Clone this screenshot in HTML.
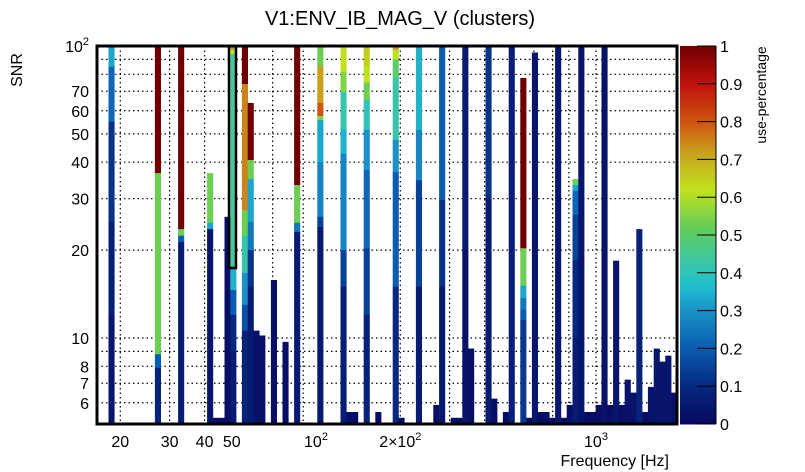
<!DOCTYPE html>
<html><head><meta charset="utf-8"><style>
html,body{margin:0;padding:0;background:#fff;}
svg{display:block;font-family:"Liberation Sans",sans-serif;}
</style></head><body>
<svg id="chart" width="805" height="472" viewBox="0 0 805 472" xmlns="http://www.w3.org/2000/svg">
<text x="400" y="25" font-size="20" text-anchor="middle">V1:ENV_IB_MAG_V (clusters)</text>
<text transform="translate(22,70) rotate(-90)" font-size="16" text-anchor="middle">SNR</text>
<text x="669" y="466" font-size="16" text-anchor="end">Frequency [Hz]</text>
<text transform="translate(766,95) rotate(-90)" font-size="14" text-anchor="middle">use-percentage</text>
<g id="grid"></g>
<g id="bars"></g>
<g id="frame"></g>
<g id="axes"></g>
<g id="cbar"></g>
</svg>
<script>
// ---- data ----
const fMin = 16.5, fMax = 1945, nBins = 100;
const snrMin = 5.07, snrMax = 100;
const xTickValues = [20, 30, 40, 50, 100, 200, 1000];
const xTickLabels = ["20", "30", "40", "50", "10^2", "2×10^2", "10^3"];
const xGridValues = [20, 30, 40, 50, 70, 90, 200, 300, 400, 500, 600, 700, 800, 1000];
const yTickValues = [100, 70, 60, 50, 40, 30, 20, 10, 8, 7, 6];
const yTickLabels = ["10^2", "70", "60", "50", "40", "30", "20", "10", "8", "7", "6"];
const yGridValues = [90, 80, 70, 60, 50, 40, 30, 20, 10, 9, 8, 7, 6];
const cbarTicks = [0, 0.1, 0.2, 0.3, 0.4, 0.5, 0.6, 0.7, 0.8, 0.9, 1];
// column bins and their segments: [top SNR, use-percentage] from top downwards
const colBins = [2,10,14,19,20,21,22,23,25,26,27,28,30,32,34,38,42,43,44,46,48,51,52,55,58,59,61,62,63,64,67,68,70,71,73,74,75,76,77,78,79,80,81,82,83,84,85,86,87,88,89,90,91,92,93,94,95,96,97,98,99];
const colSegs = [
 [[100,.33],[85,.22],[55,.12],[25,.07],[12,.04]],
 [[100,1],[36.7,.53],[8.8,.2],[7.9,.08]],
 [[100,1],[23.6,.53],[22.4,.2],[21.3,.06]],
 [[36.7,.53],[24.8,.33],[23.6,.04]],
 [[5.33,.02]],[[5.33,.02]],
 [[26,.02]],
 [[100,.72],[97,.62],[94,.45],[17.4,.35],[14.6,.2],[12,.1],[9,.06]],
 [[100,1],[74.1,.75],[27.4,.53],[22.4,.42],[16.7,.3],[13,.18],[10.6,.08]],
 [[63.8,1],[40.7,.53],[35,.33],[25,.25],[20,.12],[15,.06]],
 [[10.6,.03]],[[10.2,.03]],
 [[15.8,.02]],
 [[9.7,.02]],
 [[100,1],[33.4,.53],[24.8,.25],[23.1,.06]],
 [[100,.53],[85.4,.72],[63.8,.8],[57.6,.55],[55.8,.33],[40,.27],[26,.15],[24,.05]],
 [[100,.62],[81.5,.55],[69.6,.42],[52,.35],[42.7,.28],[20,.15],[15,.07]],
 [[5.58,.02]],[[5.58,.02]],
 [[100,.65],[85,.62],[75,.53],[65.3,.4],[51.6,.3],[37.6,.22],[20.3,.15],[12,.08]],
 [[5.58,.02]],
 [[100,.72],[97,.62],[90,.5],[78,.42],[47.7,.3],[37,.2],[15,.1]],
 [[5.33,.02]],
 [[100,.35],[51.6,.28],[34.7,.15],[15,.06]],
 [[5.9,.02]],
 [[100,.2],[29.7,.12],[15,.05]],
 [[5.33,.02]],[[5.33,.02]],
 [[100,.06],[20,.03]],
 [[9.2,.02]],
 [[100,.12],[30,.06]],
 [[6.2,.02]],
 [[5.58,.02]],
 [[100,.07]],
 [[77.7,1],[20.3,.53],[15.1,.33],[13.7,.25],[12.5,.2],[11.5,.13]],
 [[5.33,.02]],
 [[95,.04]],
 [[5.58,.02]],[[5.58,.02]],
 [[5.33,.02]],
 [[100,.05]],
 [[5.33,.02]],
 [[5.9,.02]],
 [[35,.53],[33.4,.33],[31.9,.22],[26.4,.15],[18.5,.1],[10,.06]],
 [[100,.04]],
 [[5.58,.02]],[[5.58,.02]],
 [[5.9,.02]],
 [[100,.03]],
 [[5.9,.02]],
 [[18.4,.04]],
 [[5.9,.02]],
 [[7.2,.03]],
 [[6.5,.03]],
 [[23.6,.08]],
 [[5.58,.02]],
 [[6.8,.03]],
 [[9.2,.04]],
 [[8.3,.04]],
 [[8.7,.04]],
 [[6.5,.03]]
];
// ---- layout ----
const X0 = 97, X1 = 677, Y0 = 46, Y1 = 424;
const NS = "http://www.w3.org/2000/svg";
function xScale(f){ return 316 + 280*Math.log10(f/100); }
function yScale(s){ return 46 + 292*Math.log10(100/s); }
function binEdge(i){ return fMin*Math.pow(fMax/fMin, i/nBins); }
const stops = [[0,[8,8,94]],[0.1,[6,40,128]],[0.2,[10,92,176]],[0.3,[26,146,200]],[0.37,[34,192,206]],[0.45,[68,200,150]],[0.52,[100,204,90]],[0.62,[192,226,30]],[0.72,[200,160,30]],[0.8,[208,84,16]],[0.9,[192,18,14]],[1,[112,0,0]]];
function color(v){
  for(let k=1;k<stops.length;k++){
    if(v<=stops[k][0]){
      const a=stops[k-1],b=stops[k],t=(v-a[0])/(b[0]-a[0]);
      const c=a[1].map((x,j)=>Math.round(x+(b[1][j]-x)*t));
      return `rgb(${c[0]},${c[1]},${c[2]})`;
    }
  }
  return "rgb(112,0,0)";
}
function mk(tag, attrs, parent){
  const e=document.createElementNS(NS,tag);
  for(const k in attrs) e.setAttribute(k,attrs[k]);
  parent.appendChild(e); return e;
}
function supText(parent, x, y, label, anchor, name){
  const t=mk("text",{x:x,y:y,"font-size":16,"text-anchor":anchor},parent);
  
  
  const parts=label.split("^");
  t.appendChild(document.createTextNode(parts[0]));
  if(parts[1]){ const s=mk("tspan",{dy:-7,"font-size":11},t); s.textContent=parts[1]; }
}
const grid=document.getElementById("grid");
xGridValues.forEach(f=>{
  const l=mk("line",{x1:xScale(f),x2:xScale(f),y1:Y0,y2:Y1,stroke:"#000","stroke-width":1.2,"stroke-dasharray":"1.5,3"},grid);
  
  
});
yGridValues.forEach(s=>{
  const l=mk("line",{x1:X0,x2:X1,y1:yScale(s),y2:yScale(s),stroke:"#000","stroke-width":1.2,"stroke-dasharray":"1.5,3"},grid);
  
  
});
const bars=document.getElementById("bars");
colBins.forEach((b,ci)=>{
  const xa=xScale(binEdge(b)), xb=xScale(binEdge(b+1));
  const segs=colSegs[ci];
  segs.forEach((sg,k)=>{
    const top=Math.min(sg[0],snrMax);
    const bot=k+1<segs.length?segs[k+1][0]:snrMin;
    const r=mk("rect",{x:xa,y:yScale(top),width:xb-xa+0.3,height:yScale(bot)-yScale(top)+0.3,fill:color(sg[1])},bars);
    
    
  });
});
const frame=document.getElementById("frame");
const fr=mk("rect",{x:X0,y:Y0,width:X1-X0,height:Y1-Y0,fill:"none",stroke:"#000","stroke-width":3},frame);


const hb=mk("rect",{x:229,y:Y0,width:7,height:222,fill:"none",stroke:"#000","stroke-width":2.5},frame);


const axes=document.getElementById("axes");
xTickValues.forEach((f,i)=>{
  supText(axes, xScale(f), 447, xTickLabels[i], "middle", "x-tick-label");
});
yTickValues.forEach((s,i)=>{
  supText(axes, 89, yScale(s)+6, yTickLabels[i], "end", "y-tick-label");
});
const cb=document.getElementById("cbar");
const CX0=680, CX1=716;
for(let k=0;k<200;k++){
  const v0=k/200, v1=(k+1)/200;
  const r=mk("rect",{x:CX0,y:Y1-(Y1-Y0)*v1,width:CX1-CX0,height:(Y1-Y0)/200+0.5,fill:color((v0+v1)/2)},cb);
  
  
}
cbarTicks.forEach(v=>{
  const y=Y1-(Y1-Y0)*v;
  const l=mk("line",{x1:697,x2:716,y1:y,y2:y,stroke:"#000","stroke-width":1},cb);
  
  
  const t=mk("text",{x:720,y:y+6,"font-size":16},cb);
  
  
  t.textContent = (v===0?"0":v===1?"1":v.toFixed(1));
});
const cl=mk("line",{x1:716,x2:716,y1:Y0,y2:Y1,stroke:"#000","stroke-width":1},cb);


</script>
</body></html>
